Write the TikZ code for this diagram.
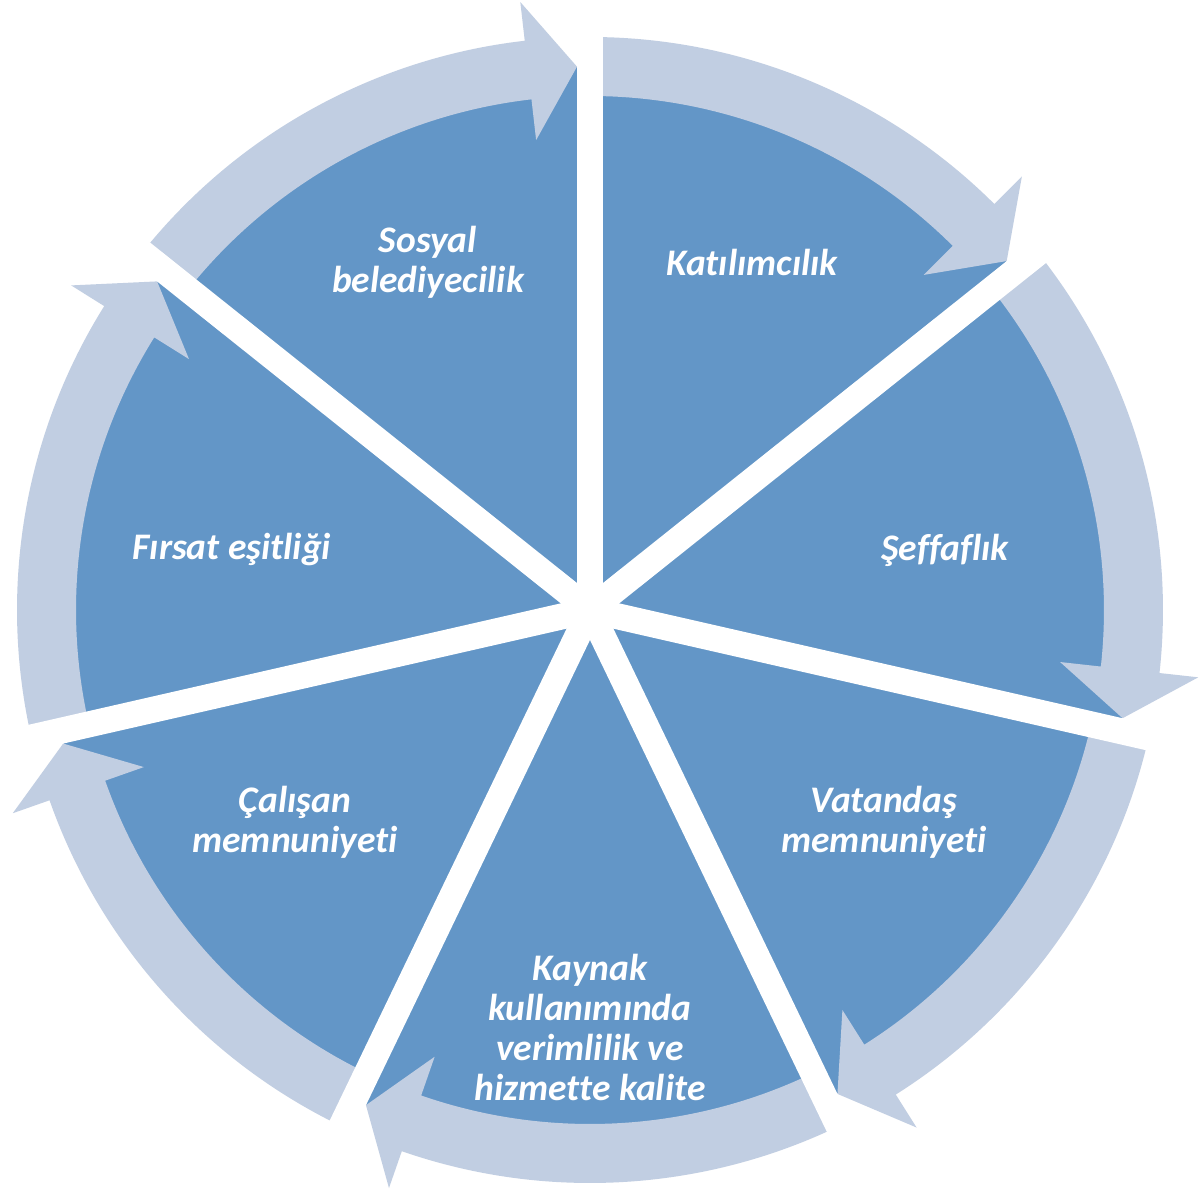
\documentclass[tikz,border=0pt]{standalone}
\usepackage{fontspec}
\setmainfont{Carlito}[Ligatures=NoCommon]
\definecolor{segblue}{HTML}{6396C7}
\definecolor{bandblue}{HTML}{C1CEE2}
\tikzset{
  seg/.style={fill=segblue},
  band/.style={fill=bandblue},
  gapline/.style={draw=white, line width=26pt, line cap=butt},
  lbl/.style={text=white, font=\fontsize{37.5}{40}\selectfont\bfseries\itshape, align=center, inner sep=0pt}
}
\begin{document}
\begin{tikzpicture}[x=1pt,y=1pt]
\path[use as bounding box, fill=white] (-590,-584) rectangle (613,610);
% pie segments
\foreach \k in {0,...,6} {
  \pgfmathsetmacro\as{90-\k*360/7}
  \pgfmathsetmacro\ae{90-(\k+1)*360/7}
  \fill[seg] (0,0) -- (\as:543) arc[start angle=\as, end angle=\ae, radius=543] -- cycle;
}
% arrow bands
\foreach \k in {0,...,6} {
  \pgfmathsetmacro\as{90-\k*360/7}
  \pgfmathsetmacro\ae{90-(\k+1)*360/7}
  \pgfmathsetmacro\at{\ae+1.37}
  \pgfmathsetmacro\aw{\ae+6.54}
  \fill[band] (\as:514) arc[start angle=\as, end angle=\aw, radius=514]
     -- (\aw:473) -- (\at:543.5) -- (\aw:612) -- (\aw:573)
     arc[start angle=\aw, end angle=\as, radius=573] -- cycle;
}
% white gaps
\foreach \k in {0,...,6} {
  \pgfmathsetmacro\as{90-\k*360/7}
  \draw[gapline] (0,0) -- (\as:630);
}
% labels
\node[lbl] (katilim) at (162,348) {Katılımcılık};
\node[lbl] (seffaf) at (355,60) {Şeffaflık};
\node[lbl] (vatandas) at (294,-212) {Vatandaş\\memnuniyeti};
\node[lbl] (kaynak) at (0,-417) {Kaynak\\kullanımında\\verimlilik ve\\hizmette kalite};
\node[lbl] (calisan) at (-295,-212) {Çalışan\\memnuniyeti};
\node[lbl] (firsat) at (-358,60) {Fırsat eşitliği};
\node[lbl] (sosyal) at (-162,348) {Sosyal\\belediyecilik};
\end{tikzpicture}
\end{document}
